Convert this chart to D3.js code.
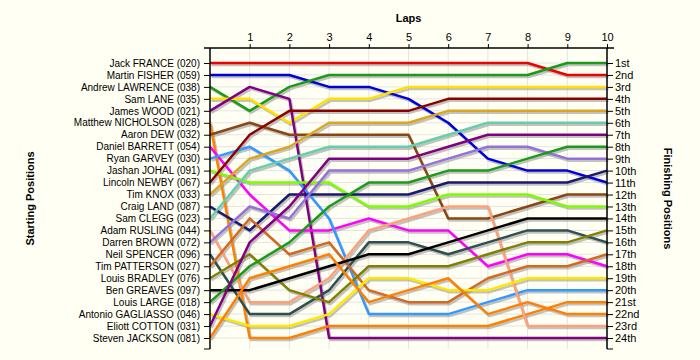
<!DOCTYPE html>
<html>
<head>
<meta charset="utf-8">
<script src="https://cdn.jsdelivr.net/npm/d3@7"></script>
<style>
  html, body { margin: 0; padding: 0; background: #fffff4; }
  svg { display: block; }
  text { font-family: "Liberation Sans", Arial, sans-serif; }
</style>
</head>
<body>
<svg id="chart" width="700" height="360"></svg>
<script>
const laps = [0, 1, 2, 3, 4, 5, 6, 7, 8, 9, 10];
const lapTicks = [1, 2, 3, 4, 5, 6, 7, 8, 9, 10];
const drivers = [
  "Jack FRANCE (020)", "Martin FISHER (059)", "Andrew LAWRENCE (038)", "Sam LANE (035)",
  "James WOOD (021)", "Matthew NICHOLSON (028)", "Aaron DEW (032)", "Daniel BARRETT (054)",
  "Ryan GARVEY (030)", "Jashan JOHAL (091)", "Lincoln NEWBY (067)", "Tim KNOX (033)",
  "Craig LAND (087)", "Sam CLEGG (023)", "Adam RUSLING (044)", "Darren BROWN (072)",
  "Neil SPENCER (096)", "Tim PATTERSON (027)", "Louis BRADLEY (076)", "Ben GREAVES (097)",
  "Louis LARGE (018)", "Antonio GAGLIASSO (046)", "Eliott COTTON (031)", "Steven JACKSON (081)"
];
const finishLabels = [
  "1st","2nd","3rd","4th","5th","6th","7th","8th","9th","10th","11th","12th",
  "13th","14th","15th","16th","17th","18th","19th","20th","21st","22nd","23rd","24th"
];
const colors = [
  "#ee0000", "#0000dd", "#1a9a1a", "#ffe000", "#800080", "#ff8000", "#8b4513", "#ff00ff",
  "#3399ff", "#7cfc00", "#8b0000", "#daa520", "#191970", "#66cdaa", "#ffa07a", "#9370db",
  "#2f4f4f", "#d2691e", "#808000", "#000000", "#1a9a1a", "#ffe800", "#800080", "#ff8000"
];
// position of each driver at laps 0..10
const lapPositions = [
  [1,1,1,1,1,1,1,1,1,2,2],
  [2,2,2,3,3,4,6,9,10,10,11],
  [3,5,3,2,2,2,2,2,2,1,1],
  [4,4,6,4,4,3,3,3,3,3,3],
  [5,3,4,24,24,24,24,24,24,24,24],
  [6,24,24,23,23,23,23,23,22,21,21],
  [7,6,7,7,7,7,14,14,13,12,12],
  [8,12,15,15,14,15,15,18,17,17,18],
  [9,8,10,14,22,22,22,21,20,20,20],
  [10,11,11,11,13,13,12,12,12,13,13],
  [11,7,5,5,5,5,4,4,4,4,4],
  [12,9,8,6,6,6,5,5,5,5,5],
  [13,15,12,12,12,12,11,11,11,11,10],
  [14,10,9,8,8,8,7,6,6,6,6],
  [15,21,21,19,15,14,13,13,23,23,23],
  [16,13,14,10,10,10,9,8,8,9,9],
  [17,22,22,20,16,16,17,16,15,15,16],
  [18,14,17,16,20,21,21,19,18,18,17],
  [19,17,20,21,18,18,18,17,16,16,15],
  [20,20,19,18,17,17,16,15,14,14,14],
  [21,18,16,13,11,11,10,10,9,8,8],
  [22,23,23,22,19,19,20,20,19,19,19],
  [23,16,13,9,9,9,8,7,7,7,7],
  [24,19,18,17,21,20,19,22,21,22,22]
];

const svg = d3.select("#chart");
const x = d3.scaleLinear().domain([0, 10]).range([210, 607]);
const y = d3.scaleLinear().domain([1, 24]).range([63, 338]);
const posTicks = d3.range(1, 25);
const yTop = y(-0.25), yBot = y(24.92);

// grid
const grid = svg.append("g");
grid.selectAll(".h").data(posTicks).join("line")
  .attr("x1", x(0)).attr("x2", x(10)).attr("y1", d => y(d)).attr("y2", d => y(d))
  .attr("stroke", "#e4e4e4").attr("stroke-width", 1);
grid.selectAll(".v").data(lapTicks).join("line")
  .attr("x1", d => x(d)).attr("x2", d => x(d)).attr("y1", yTop).attr("y2", yBot)
  .attr("stroke", "#e4e4e4").attr("stroke-width", 1);

// lines
const line = d3.line().x((d, i) => x(laps[i])).y(d => y(d));
const shadows = svg.append("g").attr("transform", "translate(1.5,2)");
shadows.selectAll("path").data(lapPositions).join("path")
  .attr("d", line).attr("fill", "none")
  .attr("stroke", "#888").attr("stroke-opacity", 0.5).attr("stroke-width", 2.5);
const lines = svg.append("g");
lines.selectAll("path").data(lapPositions).join("path")
  .attr("d", line).attr("fill", "none")
  .attr("stroke", (d, i) => colors[i]).attr("stroke-width", 2.5)
  .attr("stroke-linejoin", "round");

// top axis
const topAxis = svg.append("g").attr("transform", `translate(0,${yTop})`)
  .call(d3.axisTop(x).tickValues(lapTicks).tickSize(4).tickSizeOuter(0).tickPadding(3));
topAxis.select(".domain").remove();
topAxis.selectAll("text").attr("font-size", 11).attr("fill", "#000")
  .style("font-family", "'Liberation Sans', Arial, sans-serif");
topAxis.selectAll("line").attr("stroke", "#000");
svg.append("line").attr("x1", x(0) - 6).attr("x2", x(10) + 7)
  .attr("y1", yTop).attr("y2", yTop).attr("stroke", "#000").attr("stroke-width", 1.5);

// left axis
const leftAxis = svg.append("g").attr("transform", `translate(${x(0)},0)`)
  .call(d3.axisLeft(y).tickValues(posTicks).tickFormat(d => drivers[d - 1]).tickSize(6).tickPadding(4));
leftAxis.select(".domain").remove();
leftAxis.selectAll("text").attr("font-size", 10).attr("fill", "#000")
  .style("font-family", "'Liberation Sans', Arial, sans-serif");
leftAxis.selectAll("line").attr("stroke", "#000");
svg.append("line").attr("x1", x(0)).attr("x2", x(0))
  .attr("y1", yTop).attr("y2", yBot).attr("stroke", "#000").attr("stroke-width", 1.5);
svg.append("line").attr("x1", x(0) - 6).attr("x2", x(0))
  .attr("y1", yBot).attr("y2", yBot).attr("stroke", "#000");

// right axis
const rightAxis = svg.append("g").attr("transform", `translate(${x(10)},0)`)
  .call(d3.axisRight(y).tickValues(posTicks).tickFormat(d => finishLabels[d - 1]).tickSize(6).tickPadding(2));
rightAxis.select(".domain").remove();
rightAxis.selectAll("text").attr("font-size", 11).attr("fill", "#000")
  .style("font-family", "'Liberation Sans', Arial, sans-serif");
rightAxis.selectAll("line").attr("stroke", "#000");
svg.append("line").attr("x1", x(10)).attr("x2", x(10))
  .attr("y1", yTop).attr("y2", yBot).attr("stroke", "#000").attr("stroke-width", 1.5);
svg.append("line").attr("x1", x(10)).attr("x2", x(10) + 6)
  .attr("y1", yBot).attr("y2", yBot).attr("stroke", "#000");

// titles
svg.append("text").attr("x", (x(0) + x(10)) / 2).attr("y", 22)
  .attr("text-anchor", "middle").attr("font-size", 11).attr("font-weight", "bold").text("Laps");
svg.append("text").attr("transform", `translate(34,${(yTop + yBot) / 2}) rotate(-90)`)
  .attr("text-anchor", "middle").attr("font-size", 11).attr("font-weight", "bold").text("Starting Positions");
svg.append("text").attr("transform", `translate(664,${(yTop + yBot) / 2}) rotate(90)`)
  .attr("text-anchor", "middle").attr("font-size", 11).attr("font-weight", "bold").text("Finishing Positions");
</script>
</body>
</html>
